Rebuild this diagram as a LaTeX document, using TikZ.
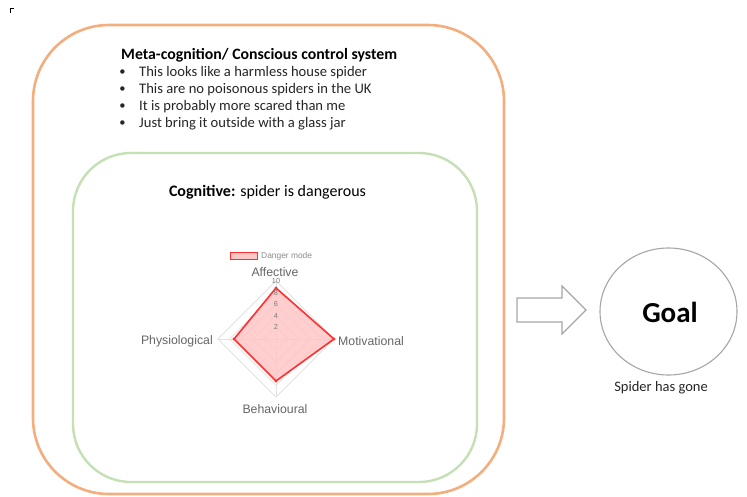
\documentclass[tikz,border=0pt]{standalone}
\usepackage{fontspec}
\usetikzlibrary{shapes.geometric}
\setmainfont{Carlito}
\newfontfamily\chartfont{Liberation Sans}
\definecolor{metaorange}{HTML}{F4AE7E}
\definecolor{coggreen}{HTML}{C5E0B4}
\definecolor{goalgray}{HTML}{A6A6A6}
\definecolor{charttext}{HTML}{666666}
\definecolor{gridgray}{HTML}{E2E2E2}
\definecolor{dangerred}{HTML}{FF3030}
\definecolor{dangerfill}{HTML}{FFC6C6}
\definecolor{bodytext}{HTML}{262626}
\tikzset{
  outerbox/.style={draw=metaorange, line width=2.6pt, rounded corners=76pt},
  innerbox/.style={draw=coggreen, line width=2.4pt, rounded corners=58pt},
  bodyline/.style={anchor=west, inner sep=0pt, font=\fontsize{14.6}{17}\selectfont, text=bodytext},
  bulletmark/.style={anchor=center, inner sep=0pt, font=\fontsize{12.5}{14}\selectfont, text=bodytext},
  axislabel/.style={inner sep=0pt, font=\chartfont\fontsize{12.3}{14}\selectfont, text=charttext},
  ticklabel/.style={inner sep=0pt, font=\chartfont\fontsize{7.3}{8}\selectfont, text=charttext!85},
  gridline/.style={draw=gridgray, line width=0.8pt},
  blockarrow/.style={draw=goalgray, line width=1.1pt, fill=white, line join=miter},
}
\begin{document}
\begin{tikzpicture}[x=1pt,y=-1pt]
  % canvas
  \path[fill=white] (0,0) rectangle (747,496);
  \useasboundingbox (0,0) rectangle (747,496);

  % small corner mark
  \draw[black, line width=0.9pt] (10.5,13) -- (10.5,8.5) -- (14,8.5);

  % meta-cognition container
  \draw[outerbox] (33,25) rectangle (504,494);
  % cognitive container
  \draw[innerbox] (73,153) rectangle (477,482);

  % meta-cognition text
  \node[bodyline, font=\bfseries\fontsize{15.8}{18}\selectfont, text=black] (metatitle) at (121,55) {Meta-cognition/ Conscious control system};
  \foreach \i/\t in {1/This looks like a harmless house spider,
                     2/This are no poisonous spiders in the UK,
                     3/It is probably more scared than me,
                     4/Just bring it outside with a glass jar}{
    \node[bulletmark] (dot\i) at (122.5,{56+17*\i}) {•};
    \node[bodyline] (line\i) at (139,{56+17*\i}) {\t};
  }

  % cognitive heading
  \node[inner sep=0pt, font=\fontsize{16}{18}\selectfont, text=black] (cogtitle) at (267.5,192) {\textbf{Cognitive:} spider is dangerous};

  % radar chart: centre (276,339), value 10 = radius 58
  \coordinate (rc) at (276,339);
  \foreach \v in {2,4,6,8,10}{
    \pgfmathsetmacro{\r}{5.8*\v}
    \draw[gridline] (276,339-\r) -- (276+\r,339) -- (276,339+\r) -- (276-\r,339) -- cycle;
  }
  \foreach \dx/\dy in {0/-58,58/0,0/58,-58/0}{
    \draw[gridline] (rc) -- ++(\dx,\dy);
  }
  % data polygon
  \coordinate (pa) at (276,288);
  \coordinate (pm) at (334,339);
  \coordinate (pb) at (276,381);
  \coordinate (pp) at (234,339);
  \draw[dangerred, line width=1.6pt, fill=dangerfill, fill opacity=0.85, line join=round] (pa) -- (pm) -- (pb) -- (pp) -- cycle;
  \foreach \p in {pa,pm,pb,pp}{
    \fill[dangerred] (\p) circle (1.6pt);
  }
  % scale ticks
  \foreach \v in {2,4,6,8,10}{
    \node[ticklabel] (tick\v) at (276,{339-5.8*\v}) {\v};
  }
  % axis labels
  \node[axislabel] (affective) at (275,272) {Affective};
  \node[axislabel, anchor=west] (motivational) at (338,341) {Motivational};
  \node[axislabel, anchor=east] (physiological) at (213,341) {Physiological};
  \node[axislabel] (behavioural) at (275,409) {Behavioural};
  % legend
  \draw[dangerred, line width=1.4pt, fill=dangerfill] (230.5,252.5) rectangle (257.5,259.5);
  \node[ticklabel, font=\chartfont\fontsize{8.4}{9}\selectfont, text=charttext!75, anchor=west] (legend) at (261,256.5) {Danger mode};

  % block arrow towards the goal
  \draw[blockarrow] (517,298) -- (562,298) -- (562,286) -- (586,310) -- (562,334) -- (562,322) -- (517,322) -- cycle;

  % goal
  \node[draw=goalgray, line width=1.1pt, ellipse, minimum width=137pt, minimum height=127pt, inner sep=0pt] (goal) at (668.5,311.5) {};
  \node[inner sep=0pt, font=\bfseries\fontsize{29}{32}\selectfont] (goaltext) at (670,312) {Goal};
  \node[inner sep=0pt, font=\fontsize{14.5}{16}\selectfont, text=bodytext] (goalnote) at (661,388) {Spider has gone};
\end{tikzpicture}
\end{document}
